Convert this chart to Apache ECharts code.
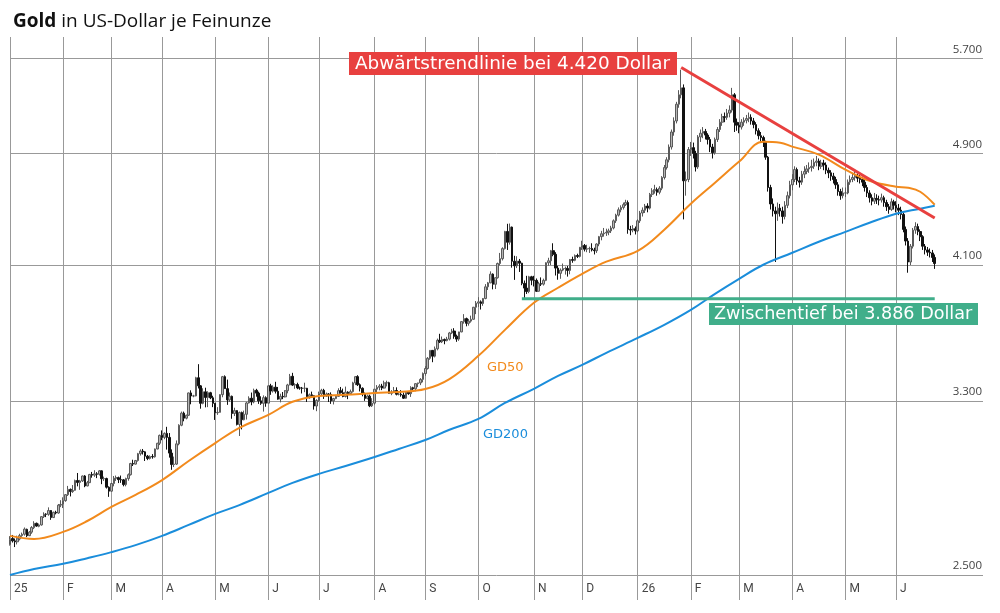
<!DOCTYPE html>
<html>
<head>
<meta charset="utf-8">
<script src="https://cdn.jsdelivr.net/npm/echarts@6/dist/echarts.min.js"></script>
<style>
  html, body { margin: 0; padding: 0; background: #fff; }
  #chart { width: 1000px; height: 613px; }
</style>
</head>
<body>
<div id="chart"></div>
<script>
// daily candles per month, one row per weekday: [open, close, low, high]
const m2501 = [
  [2625,2645,2620,2660],[2650,2640,2633,2665],[2640,2636,2614,2650],[2636,2649,2625,2662],[2648,2662,2642,2670],
  [2662,2668,2657,2675],[2668,2690,2662,2697],[2689,2662,2656,2692],[2662,2677,2660,2682],[2677,2697,2670,2703],
  [2696,2715,2690,2724],[2715,2703,2700,2718],[2702,2708,2698,2714],[2708,2744,2705,2746],[2744,2755,2738,2763],
  [2755,2754,2742,2759],[2754,2771,2748,2785],[2771,2740,2730,2773],[2740,2763,2738,2766],[2763,2760,2754,2770],
  [2760,2795,2757,2800],[2795,2798,2786,2817]
];
const m2502 = [
  [2800,2815,2782,2830],[2815,2842,2810,2845],[2842,2866,2836,2882],[2866,2856,2834,2870],[2856,2861,2850,2886],
  [2862,2907,2860,2911],[2907,2898,2880,2942],[2898,2905,2864,2910],[2905,2928,2900,2930],[2928,2882,2876,2932],
  [2882,2897,2880,2905],[2897,2935,2895,2938],[2935,2932,2920,2947],[2932,2938,2924,2955],[2938,2936,2918,2946],
  [2936,2952,2930,2956],[2952,2915,2890,2954],[2915,2916,2905,2925],[2916,2876,2870,2920],[2876,2858,2832,2880]
];
const m2503 = [
  [2858,2893,2855,2896],[2893,2918,2880,2928],[2918,2920,2905,2930],[2920,2911,2895,2925],[2911,2910,2896,2930],
  [2910,2888,2880,2914],[2888,2916,2880,2920],[2916,2934,2906,2940],[2934,2987,2930,2990],[2987,2984,2975,3005],
  [2984,3001,2982,3004],[3001,3034,2996,3038],[3034,3047,3025,3055],[3047,3043,3030,3057],[3043,3022,2999,3046],
  [3022,3011,3003,3028],[3011,3020,3006,3026],[3020,3019,3010,3032],[3019,3057,3015,3059],[3057,3085,3055,3087],
  [3085,3124,3076,3128]
];
const m2504 = [
  [3124,3114,3100,3149],[3114,3134,3105,3139],[3134,3114,3054,3167],[3114,3037,3015,3136],
  [3037,2982,2957,3055],[2982,2984,2970,3020],[2984,3082,2980,3099],[3082,3175,3075,3180],[3175,3237,3170,3245],
  [3237,3211,3195,3245],[3211,3226,3205,3229],[3226,3343,3222,3345],[3343,3327,3283,3357],[3327,3327,3320,3333],
  [3327,3425,3325,3430],[3425,3381,3367,3500],[3381,3288,3260,3385],[3288,3349,3283,3368],[3349,3319,3267,3371],
  [3319,3344,3268,3352],[3344,3317,3310,3349],[3317,3288,3268,3328]
];
const m2505 = [
  [3288,3239,3202,3290],[3239,3241,3228,3268],
  [3241,3334,3240,3336],[3334,3431,3320,3435],[3431,3366,3365,3438],[3366,3306,3280,3415],[3306,3325,3295,3345],
  [3325,3235,3208,3329],[3235,3250,3222,3265],[3250,3179,3174,3252],[3179,3240,3121,3245],[3240,3203,3154,3245],
  [3203,3231,3200,3250],[3231,3290,3204,3296],[3290,3315,3287,3325],[3315,3295,3278,3345],[3295,3357,3288,3366],
  [3357,3342,3323,3365],[3342,3301,3285,3350],[3301,3288,3280,3325],[3288,3318,3245,3330],[3318,3289,3270,3325]
];
const m2506 = [
  [3289,3381,3289,3383],[3381,3353,3333,3392],[3353,3374,3345,3384],[3374,3352,3340,3403],[3352,3310,3307,3375],
  [3310,3325,3293,3339],[3325,3322,3310,3348],[3322,3355,3319,3358],[3355,3386,3341,3392],[3386,3433,3384,3446],
  [3433,3385,3380,3452],[3385,3388,3365,3395],[3388,3370,3363,3398],[3370,3369,3360,3377],[3369,3368,3340,3375],
  [3368,3368,3347,3398],[3368,3323,3295,3370],[3323,3333,3312,3340],[3333,3328,3325,3350],[3328,3274,3255,3330],
  [3274,3303,3247,3310]
];
const m2507 = [
  [3303,3338,3297,3350],[3338,3357,3330,3365],[3357,3326,3311,3365],[3326,3337,3322,3345],
  [3337,3335,3295,3342],[3335,3301,3285,3346],[3301,3313,3282,3317],[3313,3325,3310,3330],[3325,3355,3322,3368],
  [3355,3344,3340,3375],[3344,3324,3320,3366],[3324,3347,3319,3377],[3347,3339,3310,3352],[3339,3350,3332,3361],
  [3350,3397,3345,3403],[3397,3431,3385,3433],[3431,3387,3380,3439],[3387,3368,3351,3394],[3368,3337,3325,3373],
  [3337,3314,3301,3345],[3314,3326,3309,3334],[3326,3275,3268,3334],[3275,3289,3269,3315]
];
const m2508 = [
  [3289,3363,3281,3363],
  [3363,3373,3348,3385],[3373,3380,3357,3390],[3380,3369,3358,3392],[3369,3397,3366,3409],[3397,3398,3378,3409],
  [3398,3341,3340,3403],[3341,3348,3331,3358],[3348,3356,3345,3375],[3356,3336,3330,3373],[3336,3336,3330,3347],
  [3336,3332,3323,3358],[3332,3315,3311,3345],[3315,3347,3312,3351],[3347,3339,3333,3351],[3339,3371,3322,3379],
  [3371,3365,3359,3376],[3365,3393,3352,3394],[3393,3397,3374,3398],[3397,3416,3385,3423],[3416,3448,3400,3454]
];
const m2509 = [
  [3448,3476,3436,3489],[3476,3533,3470,3540],[3533,3578,3525,3578],[3578,3545,3511,3579],[3545,3587,3538,3600],
  [3587,3636,3578,3646],[3636,3627,3620,3674],[3627,3641,3620,3658],[3641,3634,3613,3646],[3634,3643,3630,3656],
  [3643,3679,3635,3685],[3679,3690,3672,3703],[3690,3660,3645,3707],[3660,3643,3627,3669],[3643,3685,3633,3686],
  [3685,3746,3683,3749],[3746,3764,3734,3791],[3764,3736,3718,3770],[3736,3749,3722,3762],[3749,3760,3740,3782],
  [3760,3833,3758,3835],[3833,3858,3791,3871]
];
const m2510 = [
  [3858,3866,3835,3895],[3866,3856,3819,3875],[3856,3887,3842,3890],
  [3887,3960,3882,3977],[3960,3985,3940,3991],[3985,4041,3983,4059],[4041,3976,3944,4046],[3976,4018,3946,4021],
  [4018,4110,4012,4116],[4110,4142,4097,4180],[4142,4209,4130,4218],[4209,4326,4203,4330],[4326,4252,4200,4379],
  [4252,4356,4236,4381],[4356,4125,4083,4360],[4125,4095,4004,4161],[4095,4126,4080,4158],[4126,4112,4055,4140],
  [4112,3982,3970,4115],[3982,3952,3886,4000],[3952,3930,3915,4030],[3930,4024,3920,4030],[4024,4002,3970,4030]
];
const m2511 = [
  [4002,4001,3962,4030],[4001,3932,3928,4013],[3932,3980,3930,3992],[3980,3977,3965,4020],[3977,4001,3968,4012],
  [4001,4115,3996,4118],[4115,4128,4095,4148],[4128,4195,4100,4200],[4195,4171,4158,4245],[4171,4080,4032,4185],
  [4080,4046,4005,4095],[4046,4067,4011,4078],[4067,4077,4060,4110],[4077,4078,4038,4090],[4078,4065,4025,4094],
  [4065,4136,4040,4140],[4136,4131,4115,4155],[4131,4163,4125,4170],[4163,4157,4146,4175],[4157,4218,4150,4220]
];
const m2512 = [
  [4218,4230,4200,4262],[4230,4205,4190,4240],[4205,4208,4185,4235],[4208,4210,4180,4222],[4210,4200,4190,4245],
  [4200,4195,4170,4215],[4195,4240,4180,4245],[4240,4290,4225,4295],[4290,4310,4265,4330],[4310,4315,4290,4350],
  [4315,4320,4295,4345],[4320,4330,4300,4345],[4330,4350,4315,4365],[4350,4400,4340,4410],[4400,4440,4385,4450],
  [4440,4478,4430,4495],[4478,4495,4460,4510],[4495,4515,4480,4530],[4515,4530,4505,4550],[4530,4340,4310,4545],
  [4340,4335,4300,4365],[4335,4345,4320,4370],[4345,4330,4305,4360]
];
const m2601 = [
  [4330,4400,4320,4410],[4400,4455,4385,4470],
  [4455,4475,4430,4495],[4475,4505,4455,4520],[4505,4490,4460,4525],[4490,4590,4480,4600],[4590,4615,4570,4635],
  [4615,4625,4595,4660],[4625,4605,4580,4640],[4605,4635,4590,4650],[4635,4715,4620,4725],[4715,4790,4700,4810],
  [4790,4850,4775,4870],[4850,4950,4830,4970],[4950,5070,4930,5090],[5070,5160,5040,5190],[5160,5300,5140,5320],
  [5300,5380,5270,5420],[5380,5440,5350,5600],[5440,4690,4410,5470],[4690,4700,4580,4760],[4700,4930,4680,4950]
];
const m2602 = [
  [4930,4945,4880,4990],[4945,4900,4860,4985],[4900,4795,4760,4920],[4795,5030,4780,5045],[5030,5060,4990,5090],
  [5060,5075,5020,5110],[5075,5045,5010,5095],[5045,5010,4970,5060],[5010,4950,4910,5030],[4950,4905,4860,4975],
  [4905,5010,4890,5025],[5010,5090,4990,5110],[5090,5150,5070,5175],[5150,5195,5120,5220],[5195,5190,5150,5230],
  [5190,5225,5170,5260],[5225,5250,5190,5290],[5250,5380,5230,5440],[5380,5150,5070,5395],[5150,5125,5080,5180]
];
const m2603 = [
  [5125,5110,5060,5150],[5110,5150,5090,5175],[5150,5165,5120,5190],[5165,5180,5140,5210],[5180,5190,5150,5230],
  [5190,5160,5130,5215],[5160,5130,5100,5185],[5130,5080,5050,5150],[5080,5040,5010,5100],[5040,5025,4990,5070],
  [5025,4990,4950,5040],[4990,4870,4850,5000],[4870,4640,4610,4880],[4640,4520,4480,4660],[4520,4470,4430,4560],
  [4470,4450,4120,4500],[4450,4490,4400,4530],[4490,4470,4430,4520],[4470,4430,4380,4500],[4430,4510,4410,4540],
  [4510,4580,4490,4610],[4580,4660,4560,4690]
];
const m2604 = [
  [4660,4700,4620,4740],[4700,4775,4680,4800],[4775,4690,4660,4790],
  [4690,4680,4640,4720],[4680,4740,4660,4765],[4740,4760,4710,4800],[4760,4780,4740,4810],[4780,4790,4750,4830],
  [4790,4800,4760,4850],[4800,4830,4780,4860],[4830,4840,4800,4880],[4840,4800,4770,4860],[4800,4825,4780,4850],
  [4825,4810,4770,4850],[4810,4770,4740,4830],[4770,4750,4710,4790],[4750,4725,4690,4770],[4725,4700,4670,4750],
  [4700,4660,4630,4720],[4660,4610,4580,4680],[4610,4580,4550,4630],[4580,4600,4560,4640]
];
const m2605 = [
  [4600,4600,4570,4640],
  [4600,4680,4590,4700],[4680,4700,4660,4730],[4700,4715,4680,4750],[4715,4725,4690,4760],[4725,4710,4680,4745],
  [4710,4700,4670,4735],[4700,4680,4650,4720],[4680,4640,4610,4700],[4640,4600,4570,4660],[4600,4565,4530,4620],
  [4565,4540,4510,4590],[4540,4560,4520,4600],[4560,4550,4520,4590],[4550,4548,4510,4580],[4548,4565,4530,4595],
  [4565,4530,4500,4580],[4530,4500,4470,4550],[4500,4480,4450,4520],[4480,4535,4470,4560],[4535,4510,4480,4550]
];
const m2606 = [
  [4510,4490,4460,4540],[4490,4475,4440,4520],[4475,4445,4410,4500],[4445,4340,4320,4460],[4340,4260,4230,4360],
  [4260,4120,4050,4280],[4120,4225,4100,4240],[4225,4335,4210,4350],[4335,4360,4310,4390],[4360,4325,4300,4380],
  [4325,4290,4260,4340],[4290,4225,4200,4300],[4225,4200,4170,4240],[4200,4185,4160,4220],[4185,4180,4150,4210],
  [4180,4150,4120,4200],[4150,4110,4075,4170]
];

const candleMonths = {
  '2025-01': m2501, '2025-02': m2502, '2025-03': m2503, '2025-04': m2504,
  '2025-05': m2505, '2025-06': m2506, '2025-07': m2507, '2025-08': m2508,
  '2025-09': m2509, '2025-10': m2510, '2025-11': m2511, '2025-12': m2512,
  '2026-01': m2601, '2026-02': m2602, '2026-03': m2603, '2026-04': m2604,
  '2026-05': m2605, '2026-06': m2606
};

// moving averages
const gd50 = [
  ['2025-01-02',2661],['2025-01-16',2648],['2025-02-03',2678],['2025-02-17',2725],['2025-03-03',2787],
  ['2025-03-17',2841],['2025-04-01',2909],['2025-04-16',2999],['2025-05-01',3086],['2025-05-15',3162],
  ['2025-06-02',3228],['2025-06-16',3296],['2025-07-01',3327],['2025-07-16',3333],['2025-08-01',3343],
  ['2025-08-15',3348],['2025-09-01',3364],['2025-09-15',3418],['2025-10-01',3547],['2025-10-16',3697],
  ['2025-11-03',3860],['2025-11-17',3954],['2025-12-01',4043],['2025-12-15',4122],['2026-01-01',4194],
  ['2026-01-16',4338],['2026-02-02',4522],['2026-02-16',4676],['2026-03-02',4836],['2026-03-16',4992],
  ['2026-03-25',4984],['2026-04-01',4953],['2026-04-16',4890],['2026-05-01',4774],['2026-05-15',4690],
  ['2026-06-01',4646],['2026-06-08',4639],['2026-06-15',4609],['2026-06-23',4514]
];
const gd200 = [
  ['2025-01-02',2500],['2025-01-16',2524],['2025-02-03',2545],['2025-02-17',2568],['2025-03-03',2593],
  ['2025-03-17',2622],['2025-04-01',2661],['2025-04-16',2708],['2025-05-01',2756],['2025-05-15',2795],
  ['2025-06-02',2850],['2025-06-16',2896],['2025-07-01',2938],['2025-07-16',2975],['2025-08-01',3018],
  ['2025-08-15',3057],['2025-09-01',3101],['2025-09-15',3152],['2025-10-01',3207],['2025-10-16',3290],
  ['2025-11-03',3365],['2025-11-17',3435],['2025-12-01',3496],['2025-12-15',3564],['2026-01-01',3650],
  ['2026-01-16',3727],['2026-02-02',3817],['2026-02-16',3916],['2026-03-02',4011],['2026-03-16',4102],
  ['2026-04-01',4181],['2026-04-16',4255],['2026-05-01',4323],['2026-05-15',4386],['2026-06-01',4450],
  ['2026-06-15',4486],['2026-06-23',4507]
];
const trendLine = [['2026-01-27', 5620], ['2026-06-23', 4420]];
const supportLine = [['2025-10-27', 3886], ['2026-06-23', 3886]];

const yTicks = [2500, 3300, 4100, 4900, 5700];
const monthLetters = ['J','F','M','A','M','J','J','A','S','O','N','D'];
const firstDay = '2025-01-02';
const lastDay = '2026-07-21';   // axis runs a bit past the data
const lastLabelDay = '2026-06-30';

// weekdays as categories
const dates = [];
(function () {
  const d = new Date(firstDay + 'T00:00:00Z');
  const end = new Date(lastDay + 'T00:00:00Z');
  while (d <= end) {
    const wd = d.getUTCDay();
    if (wd !== 0 && wd !== 6) dates.push(d.toISOString().slice(0, 10));
    d.setUTCDate(d.getUTCDate() + 1);
  }
})();

const candleData = [];
const perMonth = {};
for (let i = 0; i < dates.length; i++) {
  const key = dates[i].slice(0, 7);
  const k = perMonth[key] || 0;
  perMonth[key] = k + 1;
  const rows = candleMonths[key];
  if (!rows || !rows[k]) break;
  candleData.push(rows[k]);
}

function toIdx(list) {
  return list.map(function (p) { return [dates.indexOf(p[0]), p[1]]; });
}

function isMonthStart(i) {
  if (dates[i] > lastLabelDay) return false;
  return i === 0 || dates[i].slice(0, 7) !== dates[i - 1].slice(0, 7);
}
function monthLabel(day) {
  const m = +day.slice(5, 7);
  return m === 1 ? day.slice(2, 4) : monthLetters[m - 1];
}
function dotted(v) {
  return String(Math.round(v)).replace(/\B(?=(\d{3})+$)/g, '.');
}

const chart = echarts.init(document.getElementById('chart'));
chart.setOption({
  animation: false,
  backgroundColor: '#fff',
  title: {
    text: '{b|Gold} in US-Dollar je Feinunze',
    left: 8,
    top: 7,
    textStyle: {
      fontFamily: 'Open Sans',
      fontSize: 19,
      fontWeight: 'normal',
      color: '#111',
      rich: {
        b: { fontFamily: 'Open Sans', fontSize: 19, fontWeight: 'bold', color: '#111' }
      }
    }
  },
  grid: { left: 10, right: 17, top: 37, bottom: 38 },
  xAxis: {
    type: 'category',
    data: dates,
    boundaryGap: false,
    axisLine: { show: false },
    axisTick: {
      show: true,
      inside: false,
      length: 25,
      interval: function (i) { return isMonthStart(i); },
      lineStyle: { color: '#999', width: 1 }
    },
    splitLine: {
      show: true,
      interval: function (i) { return isMonthStart(i); },
      lineStyle: { color: '#999', width: 1 }
    },
    axisLabel: {
      interval: function (i) { return isMonthStart(i); },
      formatter: function (v) { return monthLabel(v); },
      align: 'left',
      padding: [0, 0, 0, 4],
      margin: 8,
      fontFamily: 'Liberation Sans Narrow, Roboto',
      fontSize: 12,
      color: '#444'
    }
  },
  yAxis: {
    type: 'log',
    logBase: 10,
    min: 2500,
    max: 5900,
    position: 'right',
    axisLine: { show: false },
    axisTick: { show: false, customValues: yTicks },
    splitLine: { show: true, lineStyle: { color: '#999', width: 1 } },
    axisLabel: {
      customValues: yTicks,
      inside: true,
      align: 'right',
      verticalAlign: 'bottom',
      margin: 1,
      padding: [0, 0, 3, 0],
      fontFamily: 'Open Sans',
      fontSize: 11.5,
      color: '#444',
      formatter: dotted
    }
  },
  series: [
    {
      type: 'candlestick',
      data: candleData,
      barWidth: '85%',
      itemStyle: {
        color: '#b5b5b5',
        color0: '#111',
        borderColor: '#5a5a5a',
        borderColor0: '#111',
        borderWidth: 1
      },
      z: 2
    },
    {
      type: 'line',
      data: toIdx(gd50),
      smooth: 0.4,
      symbol: 'none',
      lineStyle: { color: '#f28a1c', width: 2 },
      z: 3
    },
    {
      type: 'line',
      data: toIdx(gd200),
      smooth: 0.4,
      symbol: 'none',
      lineStyle: { color: '#1a8ddb', width: 2 },
      z: 3
    },
    {
      type: 'line',
      data: toIdx(trendLine),
      symbol: 'none',
      lineStyle: { color: '#e8403f', width: 3 },
      z: 4
    },
    {
      type: 'line',
      data: toIdx(supportLine),
      symbol: 'none',
      lineStyle: { color: '#40ae8a', width: 3 },
      z: 4
    }
  ],
  graphic: [
    {
      type: 'rect', z: 10,
      shape: { x: 349, y: 52, width: 328, height: 23 },
      style: { fill: '#e8403f' }
    },
    {
      type: 'text', z: 11, x: 355, y: 64,
      style: {
        text: 'Abwärtstrendlinie bei 4.420 Dollar',
        fill: '#fff', font: '18.4px "DejaVu Sans"', verticalAlign: 'middle'
      }
    },
    {
      type: 'rect', z: 10,
      shape: { x: 709, y: 303, width: 269, height: 22 },
      style: { fill: '#40ae8a' }
    },
    {
      type: 'text', z: 11, x: 714, y: 314.5,
      style: {
        text: 'Zwischentief bei 3.886 Dollar',
        fill: '#fff', font: '17.6px "DejaVu Sans"', verticalAlign: 'middle'
      }
    },
    {
      type: 'text', z: 11, x: 487, y: 368,
      style: { text: 'GD50', fill: '#f28a1c', font: '13px "DejaVu Sans"', verticalAlign: 'middle' }
    },
    {
      type: 'text', z: 11, x: 483, y: 435,
      style: { text: 'GD200', fill: '#1a8ddb', font: '13px "DejaVu Sans"', verticalAlign: 'middle' }
    }
  ]
});
</script>
</body>
</html>
